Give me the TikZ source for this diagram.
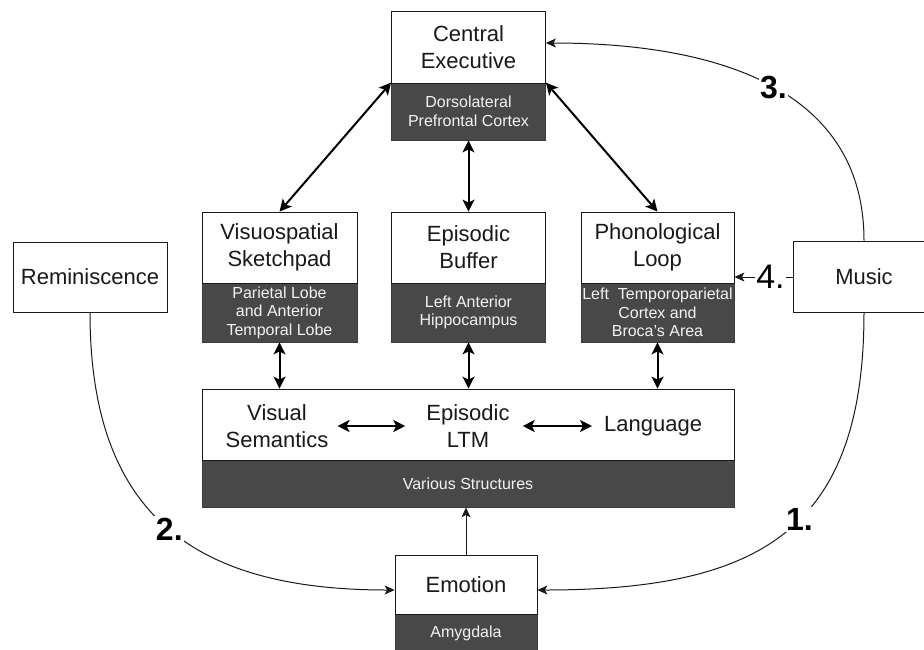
\documentclass[tikz,border=0pt]{standalone}
\usepackage{fontspec}
\setmainfont{Liberation Sans}
\usetikzlibrary{arrows.meta}
\definecolor{band}{RGB}{72,72,72}
\definecolor{bandtext}{RGB}{243,243,243}
\definecolor{ink}{RGB}{25,25,25}
\begin{document}
\begin{tikzpicture}[x=1pt,y=-1pt,
  wbox/.style={draw=ink, line width=0.8pt, fill=white, inner sep=0pt, align=center,
    font=\fontsize{22}{27}\selectfont, text=ink},
  dbox/.style={draw=ink!85, line width=0.8pt, fill=band, inner sep=0pt, align=center,
    text=bandtext, font=\fontsize{16}{18.5}\selectfont},
  lbl/.style={inner sep=0pt, align=center, font=\fontsize{22}{27}\selectfont, text=ink},
  dblarrow/.style={line width=2pt, draw=black,
    {Stealth[length=12pt,width=12pt,inset=3pt]}-{Stealth[length=12pt,width=12pt,inset=3pt]}},
  thinarrow/.style={line width=1pt, draw=ink, -{Stealth[length=10pt,width=9pt,inset=2.5pt]}},
  uparrow/.style={line width=1pt, draw=ink, -{Stealth[length=10pt,width=9pt,inset=2.5pt]}},
  numb/.style={fill=white, inner sep=1.5pt, font=\fontsize{32}{32}\selectfont\bfseries, text=black},
  numr/.style={fill=white, inner sep=1.5pt, font=\fontsize{34}{34}\selectfont, text=black},
]
\useasboundingbox (0,0) rectangle (924,649);
\clip (0,0) rectangle (924,649);

% Central Executive
\node[dbox, minimum width=154pt, minimum height=57pt] (ced) at (468.5,111.5) {Dorsolateral\\Prefrontal Cortex};
\node[wbox, minimum width=154pt, minimum height=72pt] (ce) at (468.5,47) {Central\\Executive};

% Visuospatial Sketchpad
\node[dbox, minimum width=155pt, minimum height=59pt] (vsd) at (279.5,312.5) {Parietal Lobe\\and Anterior\\Temporal Lobe};
\node[wbox, minimum width=155pt, minimum height=71pt] (vsw) at (279.5,247.5) {Visuospatial\\Sketchpad};

% Episodic Buffer
\node[dbox, minimum width=154pt, minimum height=59pt] (ebd) at (468.5,312.5) {Left Anterior\\Hippocampus};
\node[wbox, minimum width=154pt, minimum height=71pt] (ebw) at (468.5,247.5) {Episodic\\Buffer};

% Phonological Loop
\node[dbox, minimum width=153pt, minimum height=59pt] (phd) at (657.5,312.5) {Left\ \ Temporoparietal\\Cortex and\\Broca's Area};
\node[wbox, minimum width=153pt, minimum height=71pt] (phw) at (657.5,247.5) {Phonological\\Loop};

% Reminiscence and Music
\node[wbox, minimum width=154pt, minimum height=70pt] (rem) at (90,277) {Reminiscence};
\node[wbox, minimum width=142pt, minimum height=71pt] (mus) at (864,276.5) {Music};

% Long-term memory
\node[dbox, minimum width=532pt, minimum height=47pt] (ltmd) at (468,483.5) {Various Structures};
\node[wbox, minimum width=532pt, minimum height=71pt] (ltm) at (468,424.5) {};
\node[lbl] (vs) at (277,426) {Visual\\Semantics};
\node[lbl] (el) at (468,426) {Episodic\\LTM};
\node[lbl, anchor=west] (lg) at (604,426) {Language};

% Emotion
\node[dbox, minimum width=142pt, minimum height=38pt] (emod) at (466,633) {Amygdala};
\node[wbox, minimum width=142pt, minimum height=59pt] (emo) at (466,584.5) {Emotion};

% thick bidirectional arrows
\draw[dblarrow] (ced.north west) -- (vsw.north);
\draw[dblarrow] (ced.north east) -- (phw.north);
\draw[dblarrow] (ced.south) -- (ebw.north);
\draw[dblarrow] (vsd.south) -- (vsd.south |- ltm.north);
\draw[dblarrow] (ebd.south) -- (ebd.south |- ltm.north);
\draw[dblarrow] (phd.south) -- (phd.south |- ltm.north);
\draw[dblarrow] ([xshift=9pt]vs.east) -- ([xshift=-21pt]el.west);
\draw[dblarrow] ([xshift=13pt]el.east) -- ([xshift=-12pt]lg.west);

% emotion to LTM
\draw[uparrow] (emo.north) -- (emo.north |- ltmd.south);

% curved connectors
\draw[thinarrow] (mus.north) .. controls (864,80) and (700,43) .. ([yshift=4pt]ce.east)
  node[numb, pos=0.47] {3.};
\draw[thinarrow] (mus.south) .. controls (864,530) and (760,590) .. ([yshift=-5.5pt]emo.east)
  node[numb, pos=0.45] {1.};
\draw[thinarrow] (rem.south) .. controls (90,520) and (200,590) .. ([yshift=-5.5pt]emo.west)
  node[numb, pos=0.5] {2.};
\draw[thinarrow] ([yshift=-0.5pt]mus.west) -- ([yshift=-0.5pt]mus.west -| phw.east)
  node[numr, pos=0.38] {4.};
\end{tikzpicture}
\end{document}
